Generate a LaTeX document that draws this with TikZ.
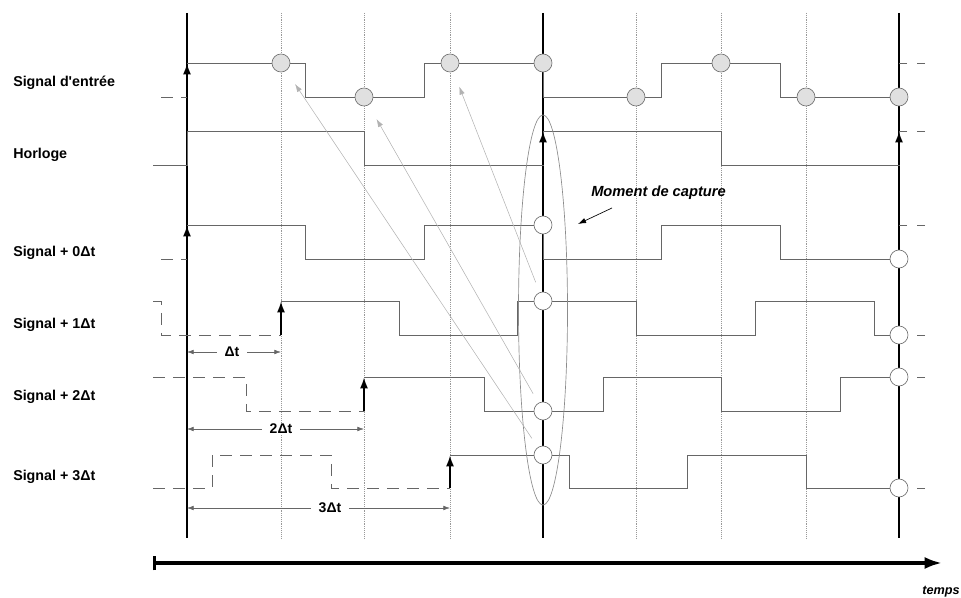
\documentclass[tikz,border=0pt]{standalone}
\usepackage{fontspec}
\newfontfamily\labelfont{Liberation Sans}
\usetikzlibrary{arrows.meta,shapes.geometric}

\tikzset{
  wave/.style={draw=black!60, line width=0.6pt},
  ghost/.style={wave, dash pattern=on 9pt off 6pt},
  stub/.style={wave, dash pattern=on 6pt off 7.5pt},
  gridline/.style={draw=black!40, densely dotted, line width=0.4pt},
  capture line/.style={line width=1.6pt},
  edge/.style={line width=1.6pt, -{Latex[length=8.5pt,width=6pt]}},
  sample/.style={circle, draw=black!55, fill=black!12, line width=0.5pt, minimum size=13.5pt, inner sep=0pt},
  probe/.style={sample, fill=white},
  lookback/.style={draw=black!30, line width=0.4pt, -{Latex[length=6pt,width=4pt]}, shorten <=8pt, shorten >=12pt},
  span/.style={draw=black!60, line width=0.5pt, {Latex[length=5pt,width=3.5pt]}-{Latex[length=5pt,width=3.5pt]}},
  spanlabel/.style={fill=white, inner xsep=6pt, inner ysep=1pt, font=\labelfont\bfseries\fontsize{10.5}{12}\selectfont},
  rowlabel/.style={anchor=west, inner sep=0pt, font=\labelfont\bfseries\fontsize{10.7}{12}\selectfont},
  window/.style={ellipse, draw=black!45, line width=0.5pt, minimum width=36.75pt, minimum height=292.5pt, inner sep=0pt},
}

\begin{document}
\begin{tikzpicture}[x=0.75pt, y=-0.75pt]
  \useasboundingbox (0,0) rectangle (961,598);

  % time grid and capture instants
  \foreach \gx in {281,364,450,636,721,806}
    \draw[gridline] (\gx,13) -- (\gx,538);
  \foreach \gx in {187,543,899}
    \draw[capture line] (\gx,13) -- (\gx,538);

  % input and clock
  \draw[ghost] (161,97) -- (187,97);
  \draw[wave] (187,63) -| (305,97) -| (424,63) -| (543,97) -| (661,63) -| (780,97) -- (899,97);
  \draw[wave] (153,165) -| (187,131) -| (364,165) -| (543,131) -| (721,165) -| (899,131);

  % delayed copies
  \draw[ghost] (161,259) -- (187,259);
  \draw[wave] (187,225) -| (305,259) -| (424,225) -| (543,259) -| (661,225) -| (780,259) -- (899,259);
  \draw[ghost] (153,301) -| (161,335) -- (281,335);
  \draw[wave] (281,301) -| (399,335) -| (517,301) -| (636,335) -| (755,301) -| (874,335) -- (899,335);
  \draw[ghost] (153,377) -| (246,411) -- (364,411);
  \draw[wave] (364,377) -| (484,411) -| (603,377) -| (721,411) -| (840,377) -- (899,377);
  \draw[ghost] (153,488) -| (212,455) -| (331,488) -- (450,488);
  \draw[wave] (450,455) -| (569,488) -| (687,455) -| (806,488) -- (899,488);
  \foreach \gy in {63,131,225,335,377,488}
    \draw[stub] (925,\gy) -- (899,\gy);

  % rising edges
  \draw[edge] (187,97) -- (187,63);
  \draw[edge] (187,259) -- (187,225);
  \draw[edge] (543,165) -- (543,131);
  \draw[edge] (899,165) -- (899,131);
  \draw[edge] (281,335) -- (281,301);
  \draw[edge] (364,411) -- (364,377);
  \draw[edge] (450,488) -- (450,455);

  % sampled values
  \node[sample] (in281) at (281,63) {};
  \node[sample] (in364) at (364,97) {};
  \node[sample] (in450) at (450,63) {};
  \node[sample] (in543) at (543,63) {};
  \node[sample] (in636) at (636,97) {};
  \node[sample] (in721) at (721,63) {};
  \node[sample] (in806) at (806,97) {};
  \node[sample] (in899) at (899,97) {};
  \node[probe] (p0) at (543,225) {};
  \node[probe] (p1) at (543,301) {};
  \node[probe] (p2) at (543,411) {};
  \node[probe] (p3) at (543,455) {};
  \node[probe] (q0) at (899,259) {};
  \node[probe] (q1) at (899,335) {};
  \node[probe] (q2) at (899,377) {};
  \node[probe] (q3) at (899,488) {};

  \node[window] (win) at (543,310) {};
  \draw[lookback] (p1) -- (in450);
  \draw[lookback] (p2) -- (in364);
  \draw[lookback] (p3) -- (in281);

  % delays
  \foreach \k/\gx/\gy/\lx/\txt in {1/281/352/232/Δt, 2/364/429/281/2Δt, 3/450/508/330/3Δt} {
    \coordinate (from\k) at (187,\gy);
    \coordinate (to\k) at (\gx,\gy);
    \draw[span] (from\k) -- (to\k);
    \node[spanlabel] (len\k) at (\lx,\gy) {\txt};
  }

  % labels
  \node[rowlabel] (lin) at (13,83) {Signal d'entrée};
  \node[rowlabel] (lclk) at (13,155) {Horloge};
  \foreach \k/\gy in {0/253,1/325,2/397,3/477}
    \node[rowlabel] (lsig\k) at (13,\gy) {Signal + {\k}Δt};

  \node[anchor=west, inner sep=0pt, font=\labelfont\bfseries\itshape\fontsize{11}{13}\selectfont] (cap) at (591,193) {Moment de capture};
  \coordinate (capfrom) at (612,208);
  \coordinate (capto) at (578,224);
  \draw[line width=0.5pt, -{Latex[length=6pt,width=4pt]}] (capfrom) -- (capto);

  % time axis
  \coordinate (tstart) at (153,563);
  \coordinate (tend) at (942,563);
  \draw[line width=2.5pt, {Bar[width=11pt]}-{Latex[length=13pt,width=9pt]}] (tstart) -- (tend);
  \node[anchor=east, inner sep=0pt, font=\labelfont\bfseries\itshape\fontsize{9.5}{11}\selectfont] (tlab) at (960,592) {temps};
\end{tikzpicture}
\end{document}
